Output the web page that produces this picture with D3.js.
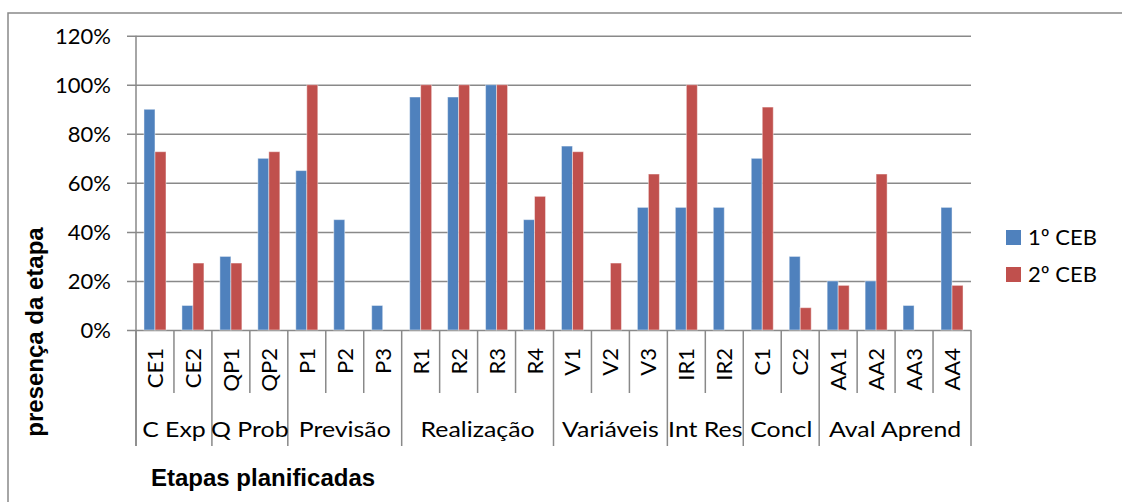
<!DOCTYPE html>
<html>
<head>
<meta charset="utf-8">
<script src="https://cdn.jsdelivr.net/npm/d3@7"></script>
<style>
  body { margin: 0; background: #fff; }
  .lbl { font-family: Lato, "Open Sans", sans-serif; font-size: 22px; fill: #000; }
  .ttl { font-family: "Liberation Sans", Arial, sans-serif; font-size: 24px; font-weight: bold; fill: #000; }
</style>
</head>
<body>
<svg width="1122" height="502"></svg>
<script>
const categories = ['CE1', 'CE2', 'QP1', 'QP2', 'P1', 'P2', 'P3', 'R1', 'R2', 'R3', 'R4',
    'V1', 'V2', 'V3', 'IR1', 'IR2', 'C1', 'C2', 'AA1', 'AA2', 'AA3', 'AA4'];
const groupNames = ['C Exp', 'Q Prob', 'Previsão', 'Realização', 'Variáveis', 'Int Res', 'Concl', 'Aval Aprend'];
const groupSizes = [2, 2, 3, 4, 3, 2, 2, 4];
const series = ['1º CEB', '2º CEB'];
const ceb1 = [0.90, 0.10, 0.30, 0.70, 0.65, 0.45, 0.10, 0.95, 0.95, 1.00, 0.45,
    0.75, 0, 0.50, 0.50, 0.50, 0.70, 0.30, 0.20, 0.20, 0.10, 0.50];
const ceb2 = [0.727, 0.273, 0.273, 0.727, 1.00, 0, 0, 1.00, 1.00, 1.00, 0.545,
    0.727, 0.273, 0.636, 1.00, 0, 0.909, 0.091, 0.182, 0.636, 0, 0.182];
const yTicks = [0, 0.2, 0.4, 0.6, 0.8, 1.0, 1.2];

const colors = ['#4F81BD', '#C0504D'];
const gridColor = '#898989';
const wide = 1.13; // horizontal text looks a bit stretched in the original

const svg = d3.select('svg');

const plot = { left: 136, right: 971, top: 35.7, bottom: 330 };

// outer chart border (cut off at right and bottom)
svg.append('rect')
    .attr('x', 8).attr('y', 13)
    .attr('width', 1200).attr('height', 600)
    .attr('fill', 'none')
    .attr('stroke', gridColor)
    .attr('stroke-width', 1.5);

const x0 = d3.scaleBand()
    .domain(categories)
    .range([plot.left, plot.right]);

const x1 = d3.scaleBand()
    .domain(series)
    .range([0, x0.bandwidth()])
    .paddingOuter(0.725);

const y = d3.scaleLinear()
    .domain([0, 1.2])
    .range([plot.bottom, plot.top]);

// gridlines + y ticks
const yAxis = d3.axisLeft(y)
    .tickValues(yTicks)
    .tickFormat(d3.format('.0%'))
    .tickSize(-(plot.right - plot.left))
    .tickPadding(25);

const yG = svg.append('g')
    .attr('transform', `translate(${plot.left},0)`)
    .call(yAxis);
yG.select('.domain').remove();
yG.selectAll('.tick line')
    .attr('x1', -9)
    .attr('stroke', gridColor)
    .attr('stroke-width', 1.5);
yG.selectAll('.tick text')
    .attr('class', 'lbl')
    .attr('dy', '0.36em')
    .attr('font-size', null)
    .attr('font-family', null);

// y axis line (runs down through the category table)
svg.append('line')
    .attr('x1', plot.left).attr('x2', plot.left)
    .attr('y1', plot.top).attr('y2', 446)
    .attr('stroke', gridColor)
    .attr('stroke-width', 1.5);

// bars
const rows = categories.map((c, i) => ({ cat: c, vals: [ceb1[i], ceb2[i]] }));

const catG = svg.append('g').selectAll('g')
    .data(rows)
    .enter()
    .append('g')
    .attr('transform', d => `translate(${x0(d.cat)},0)`);

catG.selectAll('rect')
    .data(d => d.vals.map((v, k) => ({ s: series[k], v: v, k: k })))
    .enter()
    .filter(d => d.v > 0)
    .append('rect')
    .attr('x', d => x1(d.s))
    .attr('y', d => y(d.v))
    .attr('width', x1.bandwidth())
    .attr('height', d => y(0) - y(d.v))
    .attr('fill', d => colors[d.k])
    .attr('stroke', 'rgba(255,255,255,0.45)')
    .attr('stroke-width', 1);

// category labels (rotated)
svg.append('g').selectAll('text')
    .data(categories)
    .enter()
    .append('text')
    .attr('class', 'lbl')
    .attr('text-anchor', 'end')
    .attr('transform', d => `translate(${x0(d) + x0.bandwidth() / 2 + 8},348) rotate(-90)`)
    .text(d => d);

// category ticks and group separators
let start = 0;
const groups = groupNames.map((g, i) => {
    const o = { name: g, first: categories[start], last: categories[start + groupSizes[i] - 1] };
    start += groupSizes[i];
    return o;
});

const groupEdges = new Set(groups.map(g => g.first));
const sepG = svg.append('g');
categories.forEach(c => {
    sepG.append('line')
        .attr('x1', x0(c)).attr('x2', x0(c))
        .attr('y1', plot.bottom)
        .attr('y2', groupEdges.has(c) ? 446 : 393)
        .attr('stroke', gridColor)
        .attr('stroke-width', 1.5);
});
sepG.append('line')
    .attr('x1', plot.right).attr('x2', plot.right)
    .attr('y1', plot.bottom).attr('y2', 446)
    .attr('stroke', gridColor)
    .attr('stroke-width', 1.5);

// group labels
svg.append('g').selectAll('text')
    .data(groups)
    .enter()
    .append('text')
    .attr('class', 'lbl')
    .attr('text-anchor', 'middle')
    .attr('transform', d => `translate(${(x0(d.first) + x0(d.last) + x0.bandwidth()) / 2},437) scale(${wide},1)`)
    .text(d => d.name);

// axis titles
svg.append('text')
    .attr('class', 'ttl')
    .attr('x', 151)
    .attr('y', 486)
    .text('Etapas planificadas');

svg.append('text')
    .attr('class', 'ttl')
    .attr('text-anchor', 'middle')
    .attr('transform', 'translate(43,332) rotate(-90)')
    .text('presença da etapa');

// legend
const legend = svg.append('g').selectAll('g')
    .data(series)
    .enter()
    .append('g')
    .attr('transform', (d, i) => `translate(1006,${230 + i * 37})`);

legend.append('rect')
    .attr('width', 15)
    .attr('height', 15)
    .attr('fill', (d, i) => colors[i]);

legend.append('text')
    .attr('class', 'lbl')
    .attr('x', 22)
    .attr('y', 15)
    .text(d => d);
</script>
</body>
</html>
